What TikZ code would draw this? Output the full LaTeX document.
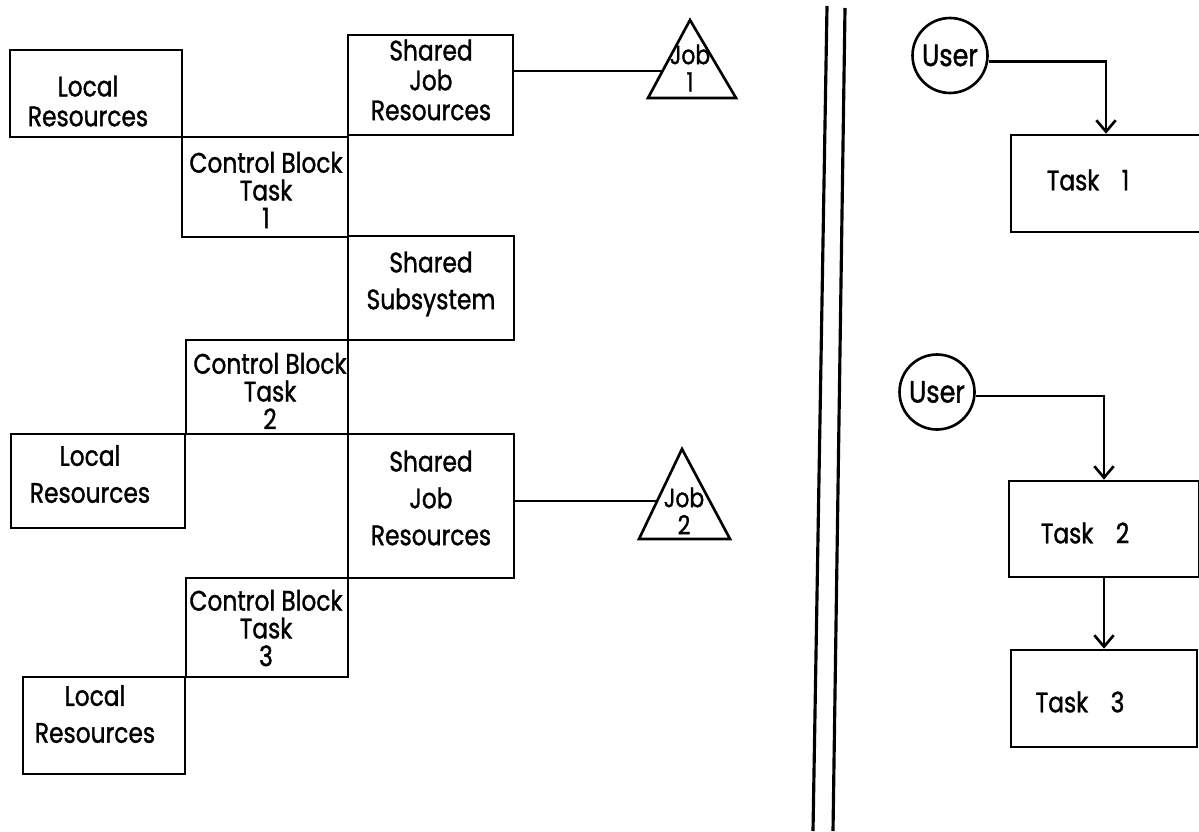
\documentclass[tikz,border=0pt]{standalone}
\usepackage{fontspec}
\setmainfont{Poppins}[FakeStretch=0.83,FakeBold=1.2]
\usetikzlibrary{arrows.meta}
\begin{document}
\begin{tikzpicture}[x=0.02cm,y=-0.02cm,line width=1.5pt,
  box/.style={draw,rectangle,inner sep=0pt},
  lbl/.style={align=center,inner sep=0pt,font=\fontsize{16}{17}\selectfont},
  cbl/.style={align=center,inner sep=0pt,font=\fontsize{16}{15.8}\selectfont},
  jbl/.style={align=center,inner sep=0pt,font=\fontsize{15}{15.5}\selectfont},
  user/.style={draw,circle,minimum size=1.5cm,inner sep=0pt,font=\fontsize{17.5}{17}\selectfont},
  arr/.style={-{Straight Barb[length=6.5pt,width=11pt,line width=1.5pt]}},
  sep/.style={line width=1.8pt}]
\useasboundingbox (0,0) rectangle (1199,831);

% left side boxes
\node[box,minimum width=3.44cm,minimum height=1.74cm] (lr1) at (96,93.5) {};
\node[box,minimum width=3.30cm,minimum height=2.00cm] (sjr1) at (430.5,85) {};
\node[box,minimum width=3.32cm,minimum height=2.00cm] (cbt1) at (265,187) {};
\node[box,minimum width=3.32cm,minimum height=2.08cm] (ss) at (431,288) {};
\node[box,minimum width=3.24cm,minimum height=1.88cm] (cbt2) at (267,387) {};
\node[box,minimum width=3.48cm,minimum height=1.88cm] (lr2) at (98,481) {};
\node[box,minimum width=3.32cm,minimum height=2.88cm] (sjr2) at (431,506) {};
\node[box,minimum width=3.24cm,minimum height=1.98cm] (cbt3) at (267,627.5) {};
\node[box,minimum width=3.24cm,minimum height=1.94cm] (lr3) at (104,725.5) {};

% texts
\node[lbl] (lr1t) at (88,101) {Local\\Resources};
\node[lbl] (sjr1t) at (431,80) {Shared\\Job\\Resources};
\node[cbl] (cbt1t) at (266,190) {Control Block\\Task\\1};
\node[lbl] (sst) at (431,284) {Shared\\[4pt]Subsystem};
\node[cbl] (cbt2t) at (270,391) {Control Block\\Task\\2};
\node[lbl] (lr2t) at (90,474) {Local\\[4pt]Resources};
\node[lbl] (sjr2t) at (431,498) {Shared\\[4pt]Job\\[4pt]Resources};
\node[cbl] (cbt3t) at (266,628) {Control Block\\Task\\3};
\node[lbl] (lr3t) at (95,714) {Local\\[4pt]Resources};

% Job triangles
\coordinate (j1a) at (690,20);
\coordinate (j1b) at (736,98);
\coordinate (j1c) at (648,98);
\draw (j1a) -- (j1b) -- (j1c) -- cycle;
\node[jbl] (j1t) at (690,68) {Job\\1};
\coordinate (j1l) at (663,71);
\draw (sjr1.east |- j1l) -- (j1l);

\coordinate (j2a) at (682,449);
\coordinate (j2b) at (730,539);
\coordinate (j2c) at (639,539);
\draw (j2a) -- (j2b) -- (j2c) -- cycle;
\node[jbl] (j2t) at (684,511) {Job\\2};
\coordinate (j2l) at (657,501);
\draw (sjr2.east |- j2l) -- (j2l);

% separator
\coordinate (s1a) at (827,6);
\coordinate (s1b) at (813,831);
\coordinate (s2a) at (845,8);
\coordinate (s2b) at (833,831);
\draw[sep] (s1a) -- (s1b);
\draw[sep] (s2a) -- (s2b);

% right side
\node[user] (u1) at (950,55.5) {User};
\node[user] (u2) at (937,392) {User};
\node[box,minimum width=3.80cm,minimum height=1.94cm] (t1) at (1106,183.5) {};
\node[box,minimum width=3.80cm,minimum height=1.92cm] (t2) at (1104,529) {};
\node[box,minimum width=3.72cm,minimum height=1.94cm] (t3) at (1104,698.5) {};
\node[lbl] (t1t) at (1088,180) {Task\hspace{0.8em}1};
\node[lbl] (t2t) at (1085,533) {Task\hspace{0.8em}2};
\node[lbl] (t3t) at (1080,702) {Task\hspace{0.8em}3};

\draw[arr] ([yshift=-0.12cm]u1.east) -| (t1.north);
\draw[arr] ([yshift=-0.08cm]u2.east) -| (t2.north);
\draw[arr] (t2.south) -- (t3.north);
\end{tikzpicture}
\end{document}
